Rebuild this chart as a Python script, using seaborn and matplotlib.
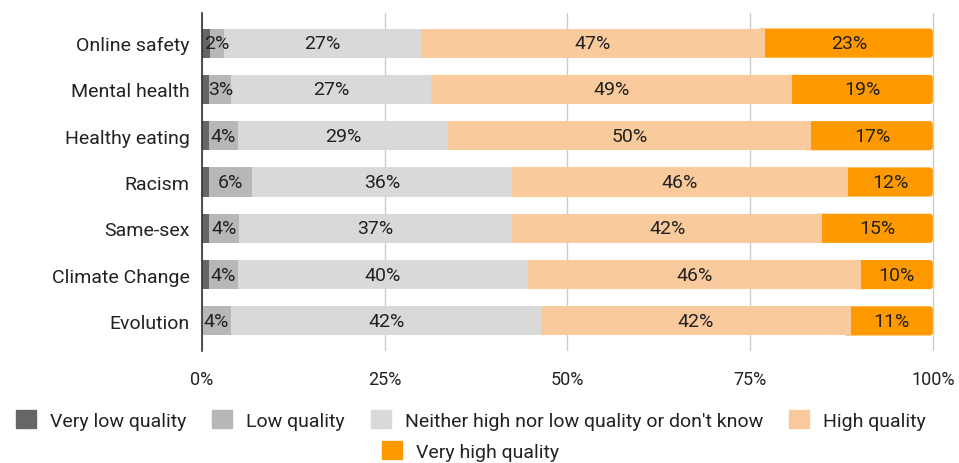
import matplotlib
matplotlib.use("Agg")
import matplotlib.pyplot as plt
import matplotlib.patches as mpatches
import numpy as np
import pandas as pd
import seaborn as sns

topics = ["Online safety", "Mental health", "Healthy eating", "Racism",
          "Same-sex", "Climate Change", "Evolution"]
levels = ["Very low quality", "Low quality",
          "Neither high nor low quality or don't know",
          "High quality", "Very high quality"]
very_low = [1.1, 1.0, 0.9, 1.0, 1.0, 1.0, 0.0]
low = [1.9, 3.0, 4.0, 5.8, 4.1, 3.9, 4.0]
neither = [27.0, 27.4, 28.8, 35.6, 37.3, 39.7, 42.4]
high = [47.0, 49.4, 49.7, 46.0, 42.5, 45.6, 42.4]
very_high = [23.0, 19.2, 16.6, 11.6, 15.1, 9.8, 11.2]
colors = ["#666666", "#b7b7b7", "#d9d9d9", "#f9cb9c", "#ff9900"]
xticks = [0, 25, 50, 75, 100]

sns.set_style("white")
plt.rcParams["font.family"] = ["Roboto", "DejaVu Sans"]

df = pd.DataFrame({"topic": topics, levels[0]: very_low, levels[1]: low,
                   levels[2]: neither, levels[3]: high, levels[4]: very_high})
vals = df[levels].to_numpy()
cum = np.cumsum(vals, axis=1)

fig, ax = plt.subplots(figsize=(9.59, 4.64), dpi=100)
fig.subplots_adjust(left=202 / 959, right=935 / 959, top=1 - 14 / 464, bottom=1 - 352 / 464)

# draw from the outermost layer inward so each stack shows through
for i in reversed(range(len(levels))):
    sns.barplot(x=cum[:, i], y=df["topic"], color=colors[i], orient="h",
                width=0.63, ax=ax, zorder=2, saturation=1, linewidth=0)

# swap the outer (very high) bars for ones with slightly rounded ends,
# starting just under the high-quality segment
px_per_x = (935 - 202) / 100.3
px_per_y = (352 - 14) / 7.3
outer = list(ax.patches[:len(topics)])
for r, p in enumerate(outer):
    start = cum[r, 3] - 1.0
    y0, w, h = p.get_y(), p.get_width(), p.get_height()
    rb = mpatches.FancyBboxPatch((start, y0), w - start, h,
                                 boxstyle=f"round,pad=0,rounding_size={3 / px_per_x:.3f}",
                                 mutation_aspect=px_per_x / px_per_y,
                                 facecolor=p.get_facecolor(), edgecolor="none")
    p.remove()
    ax.add_patch(rb)
    rb.set_zorder(1.9)

# value labels, centred in each segment
for r in range(len(topics)):
    for i in range(len(levels)):
        v = vals[r, i]
        if v < 1.5:
            continue
        center = cum[r, i] - v / 2
        ax.text(center, r, f"{v:.0f}%", ha="center", va="center",
                fontsize=14, color="#222222", zorder=5)

ax.set_xlim(0, 100.3)
ax.set_ylim(6.65, -0.65)
ax.set_xticks(xticks)
ax.set_xticklabels([f"{t}%" for t in xticks], fontsize=13, color="#222222")
ax.tick_params(axis="x", length=0, pad=14)
ax.tick_params(axis="y", length=0, pad=9, labelsize=14, labelcolor="#222222")
ax.set_xlabel("")
ax.set_ylabel("")
ax.grid(axis="x", color="#cccccc", linewidth=1, zorder=0)
ax.set_axisbelow(True)
for s in ["top", "right", "bottom"]:
    ax.spines[s].set_visible(False)
ax.spines["left"].set_color("#333333")
ax.spines["left"].set_linewidth(1.2)
ax.spines["left"].set_zorder(6)

handles = [mpatches.Patch(color=c, label=l) for c, l in zip(colors, levels)]
leg_kw = dict(frameon=False, fontsize=14, handlelength=1.03, handleheight=1.03,
              handletextpad=0.72, columnspacing=1.34, labelcolor="#222222",
              borderpad=0, borderaxespad=0)
fig.legend(handles=handles[:4], loc="center", ncol=4,
           bbox_to_anchor=(0.491, 1 - 421 / 464), **leg_kw)
fig.legend(handles=handles[4:], loc="center", ncol=1,
           bbox_to_anchor=(0.491, 1 - 452 / 464), **leg_kw)

fig.savefig("out.png", dpi=100)
